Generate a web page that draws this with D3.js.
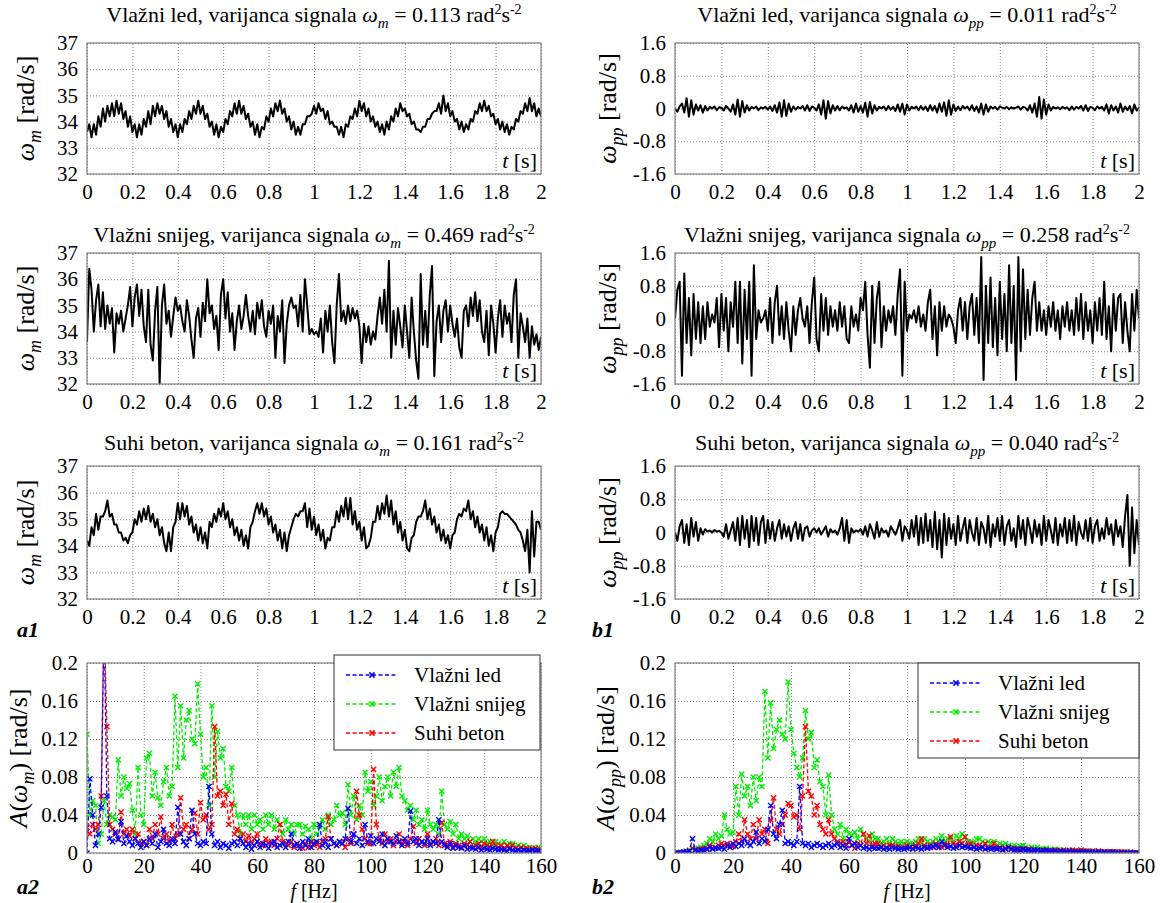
<!DOCTYPE html>
<html><head><meta charset="utf-8">
<script src="https://cdn.jsdelivr.net/npm/d3@7"></script>
<style>
body{margin:0;background:#fff;}
svg text{font-family:"Liberation Serif","Times New Roman",serif;fill:#000;}
</style></head><body>
<svg id="c" width="1161" height="903"></svg>
<script>
// ---------------- DATA ----------------
const timeTicks = [0,0.2,0.4,0.6,0.8,1,1.2,1.4,1.6,1.8,2];
const omegaMTicks = [32,33,34,35,36,37];
const omegaPPTicks = [-1.6,-0.8,0,0.8,1.6];
const freqTicks = [0,20,40,60,80,100,120,140,160];
const ampTicks = [0,0.04,0.08,0.12,0.16,0.2];
const surfaces = ["Vlažni led","Vlažni snijeg","Suhi beton"];
const seriesColors = ["#0000ff","#00ee00","#ff0000"];
const varianceM = ["0.113","0.469","0.161"];
const variancePP = ["0.011","0.258","0.040"];

// omega_m time series, sampled every 0.01 s over 0..2 s
const ledM = [33.6,33.9,33.4,33.9,33.5,34.2,33.8,34.5,34.0,34.6,34.2,
34.7,34.2,34.8,34.3,34.7,34.1,34.4,33.8,34.2,33.6,
33.9,33.4,33.9,33.5,34.1,33.8,34.4,33.9,34.6,34.2,
34.7,34.3,34.6,34.1,34.4,33.8,34.1,33.6,33.9,33.4,
33.9,33.6,34.1,33.9,34.4,34.1,34.6,34.3,34.8,34.3,
34.6,34.1,34.3,33.8,34.0,33.5,33.9,33.4,33.8,33.6,
34.1,33.9,34.4,34.2,34.7,34.3,34.8,34.3,34.6,34.1,
34.3,33.8,34.0,33.5,33.9,33.4,33.8,33.7,34.2,34.0,
34.5,34.2,34.7,34.4,34.8,34.3,34.5,34.0,34.2,33.7,
34.0,33.5,33.8,33.5,33.9,33.9,34.2,34.2,34.3,34.6,
34.3,34.7,34.4,34.5,34.1,34.4,33.9,34.0,33.8,33.8,
33.5,33.8,33.4,33.9,33.8,34.2,34.1,34.5,34.2,34.8,
34.4,34.7,34.2,34.5,34.0,34.2,33.8,34.0,33.6,33.9,
33.5,34.0,33.7,34.2,34.0,34.5,34.2,34.7,34.4,34.5,
34.2,34.3,33.9,34.0,33.7,33.7,33.6,33.8,33.8,34.1,
34.1,34.3,34.4,34.4,34.7,34.3,35.0,34.4,34.7,34.2,
34.4,34.0,34.1,33.7,34.0,33.6,33.9,33.7,34.1,34.0,
34.4,34.3,34.7,34.4,34.8,34.4,34.6,34.2,34.3,33.9,
34.1,33.7,34.0,33.6,33.9,33.5,33.8,33.7,34.1,34.0,
34.4,34.3,34.7,34.4,34.9,34.4,34.7,34.2,34.5,34.2];

const snijegM = [33.6,36.4,35.6,34.0,35.2,35.8,34.2,35.5,34.1,35.0,34.3,
34.9,33.2,34.7,34.3,34.8,34.0,34.5,35.0,35.7,34.2,
35.3,35.8,34.6,35.6,34.2,33.6,35.6,33.5,32.9,34.8,
35.7,32.0,35.0,35.8,34.3,34.8,33.8,34.6,35.3,34.8,
35.0,34.4,34.0,35.2,34.6,33.7,33.0,34.5,34.9,33.8,
35.1,34.4,36.0,34.7,35.0,34.1,34.6,33.3,35.4,36.0,
34.5,35.5,34.0,34.7,33.3,34.4,35.0,34.1,34.6,35.4,
34.6,34.0,34.8,33.9,35.1,34.5,35.2,34.2,33.8,34.8,
34.3,35.0,33.0,34.6,34.0,35.2,32.8,34.3,35.0,35.3,
34.9,35.0,34.2,35.4,34.0,36.0,35.0,33.9,34.1,33.9,
34.0,33.8,34.5,33.2,34.8,34.0,35.0,33.6,32.8,35.0,
36.2,34.4,34.8,34.3,35.0,34.4,34.9,34.5,34.8,34.2,
32.8,34.3,33.6,34.2,33.5,34.0,33.7,34.6,35.3,34.3,
35.6,34.0,36.7,33.0,34.8,33.5,34.9,34.2,33.4,35.0,
34.0,33.0,35.3,34.0,32.9,32.2,36.2,33.5,34.8,33.4,
35.4,36.5,32.3,34.4,35.0,33.6,34.8,35.2,34.0,35.0,
34.3,33.8,34.5,33.4,33.0,34.8,35.0,34.2,35.3,34.6,
35.5,34.4,35.2,34.0,33.6,34.8,33.1,35.0,34.3,33.2,
34.5,35.2,33.8,35.0,34.3,34.7,33.6,35.4,36.0,33.0,
34.7,34.2,33.6,34.5,33.0,34.2,33.5,33.9,33.3,33.8];

const betonM = [34.2,34.0,34.7,34.4,35.2,34.6,35.1,35.1,35.3,35.7,35.1,
35.2,34.8,34.8,34.5,34.5,34.2,34.3,34.1,34.4,34.5,
35.0,34.8,35.3,34.9,35.4,35.0,35.5,34.9,35.2,34.7,
35.0,34.4,34.7,34.1,33.8,34.5,33.8,34.7,34.9,35.6,
35.0,35.6,35.1,35.5,34.8,35.1,34.5,34.8,34.2,34.7,
34.1,34.5,33.9,34.9,34.7,35.2,34.9,35.4,35.1,35.6,
35.0,35.3,34.7,35.0,34.4,34.7,34.2,34.6,34.0,34.4,
33.9,34.7,34.9,35.3,35.6,35.2,35.6,35.1,35.4,34.8,
35.1,34.5,34.8,34.2,34.6,33.9,34.5,33.8,34.4,34.7,
35.0,35.2,35.1,35.3,35.3,35.6,34.7,35.4,34.6,35.1,
34.4,34.8,34.2,34.6,33.9,34.3,34.2,34.7,34.7,35.3,
34.9,35.5,35.1,35.8,35.0,35.8,34.8,35.3,34.6,34.9,
34.2,34.7,33.9,34.0,34.3,34.9,34.9,35.5,35.0,35.6,
35.2,35.9,35.1,35.7,34.8,35.3,34.5,34.9,34.2,34.6,
33.9,33.8,34.3,34.4,34.9,35.1,35.1,35.3,35.7,35.0,
35.4,34.8,35.1,34.5,34.8,34.2,34.6,34.1,34.4,33.9,
34.4,34.5,35.0,35.2,35.1,35.4,35.3,35.7,35.0,35.3,
34.7,35.1,34.5,34.8,34.2,34.7,34.0,34.4,33.8,34.5,
34.7,35.2,35.3,35.2,35.2,35.1,35.0,34.9,34.8,34.6,
34.5,34.2,33.8,34.6,33.0,35.3,33.6,34.9,34.9,34.6];

// omega_pp time series, sampled every 0.01 s over 0..2 s
const ledPP = [0.0,-0.08,0.05,0.12,-0.1,0.25,-0.2,0.2,-0.15,0.1,-0.05,
0.08,-0.1,0.06,-0.05,0.04,0.0,0.05,-0.04,0.03,0.02,
-0.05,0.06,0.0,-0.08,0.1,-0.15,0.22,-0.2,0.18,-0.1,
0.08,-0.05,0.04,0.0,0.05,-0.04,0.03,0.0,0.04,-0.03,
0.05,-0.06,0.08,-0.1,0.15,-0.2,0.2,-0.18,0.12,-0.08,
0.05,-0.03,0.04,0.0,0.06,-0.05,0.08,-0.06,0.05,0.02,
-0.05,0.1,-0.15,0.2,-0.25,0.18,-0.12,0.08,-0.05,0.06,
-0.04,0.05,0.0,0.03,-0.05,0.08,-0.1,0.12,-0.08,0.06,
-0.1,0.14,-0.2,0.16,-0.12,0.08,-0.05,0.04,0.0,0.05,
-0.04,0.06,-0.03,0.04,-0.06,0.1,-0.08,0.12,-0.15,0.1,
-0.05,0.04,0.0,0.05,-0.04,0.06,-0.03,0.05,-0.06,0.08,
-0.05,0.06,-0.1,0.12,-0.08,0.15,-0.18,0.2,-0.15,0.1,
-0.06,0.05,-0.04,0.06,0.0,0.05,-0.04,0.08,-0.06,0.05,
-0.1,0.12,-0.15,0.1,-0.08,0.05,0.0,0.04,-0.03,0.05,
0.02,0.0,0.04,-0.02,0.03,0.0,0.02,0.05,-0.03,0.04,
0.02,-0.05,0.08,-0.1,0.12,-0.2,0.28,-0.25,0.22,-0.15,
0.1,-0.05,0.04,0.0,0.03,-0.02,0.04,0.0,0.03,-0.04,
0.05,-0.03,0.04,0.0,0.06,-0.05,0.08,-0.06,0.04,0.02,
-0.04,0.05,0.0,0.04,-0.05,0.1,-0.12,0.08,-0.05,0.05,
-0.1,0.12,-0.08,0.05,-0.04,0.06,-0.12,0.1,-0.05,0.02];

const snijegPP = [0.0,0.7,0.9,-1.4,1.1,-0.6,0.5,-0.9,0.6,-0.5,0.4,
-0.6,0.3,-0.5,0.4,-0.2,0.1,-0.1,0.5,-0.7,0.6,
-0.3,0.5,-0.8,0.4,-0.2,0.9,-0.6,0.9,-1.1,0.7,
-0.5,0.9,-1.4,1.3,-0.5,0.2,-0.1,0.0,0.2,-0.3,
0.5,-0.6,0.4,0.8,-0.4,0.3,-0.5,0.4,-0.3,-0.8,
0.3,-0.4,0.2,0.5,0.0,-0.2,0.3,-0.6,0.4,1.0,
-0.5,-0.8,0.6,-0.3,0.5,-0.4,0.3,-0.2,0.2,-0.3,
0.4,-0.2,0.3,-0.5,-0.6,0.3,-0.2,0.1,-0.3,0.5,
0.2,0.9,-0.4,-1.2,0.8,-0.6,0.5,0.9,-0.7,0.3,
-0.3,0.2,-0.1,0.3,-0.4,0.6,1.2,-1.4,0.9,-0.3,
0.1,0.0,0.2,-0.1,0.3,-0.2,0.1,-0.3,0.4,0.7,
-0.5,0.3,-0.9,0.4,-0.3,0.3,-0.2,0.1,0.0,-0.2,
-0.6,0.2,0.5,-0.3,0.4,-0.5,0.3,0.6,-0.4,0.5,
-0.6,1.5,-1.5,0.8,-0.6,1.0,-0.7,0.5,-0.9,0.9,
-0.5,0.6,-0.8,1.3,-0.6,0.8,-1.5,1.5,-0.8,1.2,
-0.5,0.7,-0.4,0.5,0.9,-0.3,0.4,-0.3,0.2,-0.4,
0.3,-0.2,0.4,-0.3,0.2,-0.5,0.3,-0.2,0.4,-0.3,
0.2,-0.4,0.5,-0.3,0.6,-0.5,0.4,-0.3,0.2,-0.6,
0.4,-0.3,0.5,-0.4,0.9,-0.5,0.3,-0.8,0.6,-0.3,
0.5,0.6,-0.6,0.4,-0.3,-0.8,0.6,-0.3,0.7,0.0];

const betonPP = [0.0,-0.2,0.15,0.3,-0.25,0.2,-0.3,0.35,-0.1,0.25,-0.2,
0.1,-0.05,0.08,0.02,0.05,0.0,0.06,0.02,0.04,0.0,
-0.1,0.2,-0.15,0.05,0.25,-0.2,0.35,-0.3,0.4,-0.15,
0.3,-0.35,0.4,-0.2,0.35,-0.3,0.25,0.4,-0.25,0.3,
-0.15,0.25,-0.2,0.1,0.3,-0.15,0.2,-0.1,0.15,-0.2,
0.1,0.25,-0.15,0.2,-0.2,0.1,0.15,-0.1,0.05,0.1,
0.0,0.1,-0.05,0.05,0.15,-0.1,0.08,0.0,0.05,-0.05,
0.1,0.35,-0.2,0.3,-0.25,0.1,0.0,0.05,0.02,0.08,
-0.05,0.15,-0.1,0.2,0.05,-0.15,0.25,-0.1,0.1,0.0,
0.05,-0.1,0.15,0.05,-0.05,0.1,0.3,-0.2,0.15,0.05,
-0.15,0.3,-0.1,0.4,-0.3,0.35,-0.25,0.45,-0.2,0.3,
-0.35,0.5,-0.4,0.3,-0.6,0.45,-0.3,0.35,-0.15,0.2,
-0.3,0.4,-0.2,0.1,0.35,-0.25,0.3,0.0,-0.2,0.35,
-0.3,0.25,0.1,-0.25,0.4,-0.35,0.2,-0.1,0.35,-0.2,
0.4,-0.3,0.15,0.3,-0.2,0.1,-0.35,0.4,-0.15,0.3,
-0.3,0.35,0.1,-0.25,0.3,-0.1,0.2,-0.3,0.4,-0.2,
0.3,0.05,-0.25,0.35,-0.3,0.2,-0.1,0.35,-0.25,0.3,
-0.2,0.4,-0.3,0.25,0.0,-0.15,0.3,-0.2,0.35,-0.25,
0.15,0.3,-0.2,0.1,-0.15,0.35,-0.05,0.2,-0.3,0.3,
-0.1,0.15,-0.35,0.4,0.9,-0.8,0.6,-0.5,0.3,-0.3];

// amplitude spectra A(omega_m), 0..160 Hz in 1 Hz steps
const specLedM = [0.000,0.078,0.040,0.008,0.020,0.048,0.250,0.060,0.015,0.012,
0.022,0.014,0.033,0.010,0.018,0.012,0.008,0.015,0.010,0.006,
0.012,0.008,0.015,0.010,0.020,0.006,0.012,0.025,0.010,0.008,
0.015,0.010,0.048,0.020,0.012,0.008,0.015,0.045,0.020,0.010,
0.008,0.012,0.010,0.070,0.020,0.008,0.012,0.006,0.010,0.008,
0.005,0.010,0.012,0.008,0.015,0.010,0.006,0.010,0.004,0.008,
0.012,0.006,0.010,0.008,0.005,0.010,0.012,0.006,0.008,0.010,
0.006,0.012,0.020,0.008,0.010,0.005,0.012,0.008,0.015,0.006,
0.010,0.012,0.030,0.008,0.012,0.006,0.015,0.010,0.008,0.012,
0.010,0.015,0.047,0.012,0.020,0.010,0.015,0.008,0.030,0.012,
0.018,0.010,0.015,0.012,0.020,0.008,0.015,0.012,0.010,0.018,
0.012,0.008,0.015,0.010,0.044,0.012,0.015,0.008,0.012,0.010,
0.015,0.008,0.012,0.010,0.035,0.012,0.008,0.006,0.010,0.005,
0.008,0.006,0.005,0.008,0.004,0.006,0.005,0.004,0.006,0.003,
0.005,0.004,0.003,0.005,0.004,0.003,0.004,0.003,0.002,0.004,
0.003,0.002,0.003,0.002,0.003,0.002,0.002,0.003,0.002,0.002,
0.002];
const specSnijegM = [0.125,0.040,0.055,0.050,0.010,0.020,0.055,0.030,0.040,0.038,
0.035,0.098,0.060,0.080,0.068,0.073,0.045,0.020,0.090,0.040,
0.030,0.100,0.105,0.060,0.085,0.058,0.050,0.075,0.090,0.060,
0.070,0.165,0.090,0.155,0.100,0.140,0.150,0.120,0.115,0.178,
0.125,0.080,0.090,0.050,0.155,0.080,0.128,0.100,0.110,0.070,
0.065,0.090,0.050,0.040,0.020,0.040,0.030,0.040,0.025,0.040,
0.030,0.035,0.025,0.040,0.030,0.040,0.025,0.035,0.030,0.020,
0.035,0.025,0.030,0.020,0.030,0.030,0.020,0.028,0.025,0.015,
0.030,0.020,0.028,0.035,0.025,0.040,0.030,0.035,0.050,0.040,
0.042,0.030,0.072,0.040,0.060,0.035,0.050,0.040,0.085,0.065,
0.075,0.050,0.060,0.080,0.055,0.070,0.080,0.060,0.085,0.070,
0.090,0.060,0.055,0.045,0.050,0.035,0.045,0.030,0.035,0.025,
0.045,0.030,0.025,0.030,0.020,0.065,0.030,0.025,0.033,0.020,
0.030,0.015,0.020,0.015,0.018,0.012,0.015,0.010,0.015,0.012,
0.015,0.010,0.012,0.008,0.012,0.010,0.008,0.012,0.008,0.010,
0.010,0.006,0.008,0.006,0.008,0.005,0.006,0.005,0.004,0.006,
0.004];
const specBetonM = [0.027,0.020,0.030,0.025,0.030,0.060,0.250,0.133,0.030,0.025,
0.020,0.015,0.043,0.020,0.025,0.018,0.025,0.015,0.020,0.010,
0.012,0.008,0.025,0.015,0.030,0.020,0.038,0.015,0.020,0.012,
0.030,0.015,0.020,0.058,0.025,0.030,0.015,0.025,0.042,0.020,
0.053,0.035,0.040,0.025,0.030,0.133,0.060,0.065,0.050,0.062,
0.030,0.052,0.020,0.025,0.015,0.020,0.012,0.018,0.010,0.015,
0.020,0.010,0.008,0.015,0.010,0.012,0.008,0.015,0.030,0.012,
0.010,0.008,0.012,0.006,0.010,0.008,0.005,0.010,0.006,0.012,
0.008,0.010,0.006,0.012,0.015,0.038,0.015,0.010,0.008,0.012,
0.010,0.006,0.015,0.010,0.020,0.065,0.040,0.025,0.015,0.010,
0.010,0.088,0.030,0.015,0.010,0.020,0.012,0.015,0.008,0.012,
0.020,0.010,0.012,0.008,0.015,0.028,0.010,0.015,0.012,0.008,
0.020,0.010,0.012,0.015,0.008,0.032,0.010,0.008,0.012,0.006,
0.010,0.008,0.006,0.010,0.008,0.012,0.006,0.008,0.010,0.006,
0.010,0.008,0.006,0.012,0.008,0.006,0.008,0.005,0.008,0.006,
0.008,0.005,0.004,0.006,0.004,0.005,0.003,0.004,0.005,0.003,
0.003];

// amplitude spectra A(omega_pp), 0..160 Hz in 1 Hz steps
const specLedPP = [0.000,0.000,0.000,0.001,0.001,0.002,0.015,0.003,0.002,0.003,
0.003,0.004,0.006,0.004,0.005,0.005,0.006,0.004,0.008,0.006,
0.010,0.007,0.010,0.008,0.015,0.010,0.008,0.012,0.022,0.010,
0.015,0.012,0.025,0.050,0.020,0.015,0.030,0.045,0.010,0.012,
0.010,0.008,0.012,0.070,0.010,0.008,0.010,0.006,0.008,0.010,
0.008,0.006,0.008,0.010,0.006,0.008,0.010,0.006,0.008,0.005,
0.015,0.008,0.010,0.006,0.008,0.005,0.006,0.004,0.006,0.005,
0.005,0.006,0.004,0.005,0.004,0.006,0.005,0.004,0.005,0.004,
0.005,0.006,0.004,0.006,0.005,0.004,0.006,0.005,0.006,0.007,
0.008,0.006,0.012,0.008,0.006,0.007,0.005,0.006,0.008,0.006,
0.007,0.006,0.005,0.006,0.004,0.005,0.006,0.004,0.005,0.004,
0.005,0.004,0.005,0.003,0.004,0.006,0.004,0.003,0.004,0.003,
0.004,0.003,0.003,0.002,0.003,0.003,0.002,0.002,0.003,0.002,
0.002,0.002,0.001,0.002,0.001,0.001,0.002,0.001,0.001,0.001,
0.001,0.001,0.001,0.001,0.000,0.001,0.001,0.000,0.001,0.000,
0.000,0.001,0.000,0.000,0.000,0.000,0.000,0.000,0.000,0.000,
0.000];
const specSnijegPP = [0.000,0.000,0.001,0.001,0.002,0.003,0.005,0.004,0.005,0.006,
0.008,0.010,0.015,0.012,0.020,0.015,0.018,0.040,0.025,0.020,
0.022,0.070,0.040,0.083,0.060,0.070,0.050,0.080,0.055,0.080,
0.070,0.170,0.100,0.158,0.110,0.130,0.140,0.125,0.120,0.180,
0.130,0.105,0.090,0.080,0.100,0.150,0.120,0.127,0.090,0.098,
0.075,0.070,0.040,0.082,0.040,0.025,0.020,0.030,0.015,0.025,
0.020,0.018,0.022,0.015,0.025,0.020,0.015,0.012,0.020,0.015,
0.015,0.010,0.012,0.015,0.010,0.015,0.012,0.010,0.012,0.010,
0.012,0.010,0.010,0.012,0.015,0.010,0.015,0.012,0.010,0.012,
0.015,0.012,0.018,0.012,0.015,0.015,0.012,0.018,0.015,0.020,
0.017,0.012,0.012,0.010,0.015,0.015,0.012,0.010,0.012,0.010,
0.012,0.008,0.010,0.008,0.010,0.008,0.006,0.008,0.006,0.007,
0.008,0.006,0.005,0.006,0.005,0.006,0.004,0.004,0.005,0.003,
0.003,0.004,0.003,0.003,0.002,0.002,0.003,0.002,0.002,0.002,
0.002,0.002,0.001,0.002,0.001,0.001,0.002,0.001,0.001,0.001,
0.001,0.001,0.001,0.000,0.001,0.000,0.001,0.000,0.000,0.000,
0.000];
const specBetonPP = [0.000,0.000,0.000,0.001,0.001,0.002,0.005,0.003,0.003,0.004,
0.005,0.004,0.008,0.005,0.006,0.008,0.010,0.008,0.010,0.008,
0.007,0.012,0.020,0.012,0.035,0.020,0.015,0.030,0.015,0.035,
0.020,0.025,0.010,0.035,0.058,0.025,0.020,0.030,0.040,0.052,
0.050,0.038,0.040,0.025,0.060,0.133,0.065,0.060,0.040,0.050,
0.030,0.025,0.020,0.035,0.020,0.015,0.012,0.010,0.012,0.008,
0.012,0.008,0.005,0.010,0.008,0.020,0.010,0.018,0.008,0.010,
0.010,0.006,0.008,0.006,0.008,0.008,0.006,0.007,0.005,0.006,
0.008,0.006,0.005,0.008,0.010,0.015,0.008,0.006,0.008,0.006,
0.010,0.008,0.006,0.010,0.008,0.017,0.010,0.008,0.012,0.010,
0.017,0.008,0.010,0.006,0.008,0.008,0.006,0.010,0.005,0.006,
0.010,0.005,0.006,0.004,0.005,0.006,0.004,0.005,0.003,0.004,
0.004,0.003,0.004,0.003,0.002,0.003,0.002,0.003,0.002,0.002,
0.002,0.003,0.002,0.002,0.003,0.002,0.002,0.003,0.002,0.002,
0.003,0.002,0.002,0.001,0.002,0.001,0.002,0.001,0.001,0.001,
0.0015,0.001,0.001,0.001,0.001,0.001,0.000,0.001,0.000,0.000,
0.000];

// ---------------- DRAWING ----------------
const svg = d3.select('#c');
const cols = [{x0:87,x1:541,ylab:34,sylab:27,pad:9},{x0:675,x1:1139,ylab:616,sylab:614,pad:9}];
const rows = [{y0:43,y1:174,title:22},{y0:253,y1:384,title:242},{y0:466,y1:599,title:450}];
const specRow = {y0:663,y1:853};
const fmt = v => String(v);
let clipN = 0;

function panel(x0,x1,y0,y1,xDom,yDom,xTicks,yTicks,yPad,xPad){
  const x = d3.scaleLinear().domain(xDom).range([x0,x1]);
  const y = d3.scaleLinear().domain(yDom).range([y1,y0]);
  const g = svg.append('g');
  const ax = g.append('g').attr('transform',`translate(0,${y1})`)
    .call(d3.axisBottom(x).tickValues(xTicks).tickFormat(fmt)
      .tickSizeInner(-(y1-y0)).tickSizeOuter(0).tickPadding(xPad));
  const ay = g.append('g').attr('transform',`translate(${x0},0)`)
    .call(d3.axisLeft(y).tickValues(yTicks).tickFormat(fmt)
      .tickSizeInner(-(x1-x0)).tickSizeOuter(0).tickPadding(yPad));
  [ax,ay].forEach(a=>{
    a.attr('font-family',null);
    a.select('.domain').remove();
    a.selectAll('line').attr('stroke','#7a7a7a').attr('stroke-width',0.9).attr('stroke-dasharray','1,2');
    a.selectAll('text').attr('font-size',21).attr('fill','#000')
      .style('font-family','"Liberation Serif","Times New Roman",serif');
  });
  const id = 'clip'+(clipN++);
  svg.append('clipPath').attr('id',id).append('rect')
    .attr('x',x0).attr('y',y0).attr('width',x1-x0).attr('height',y1-y0);
  const frame = ()=> g.append('rect').attr('x',x0).attr('y',y0).attr('width',x1-x0).attr('height',y1-y0)
    .attr('fill','none').attr('stroke','#808080').attr('stroke-width',1.2);
  return {x,y,g,id,frame};
}

function title(cx, yb, surface, sub, val){
  const t = svg.append('text').attr('x',cx).attr('y',yb).attr('text-anchor','middle').attr('font-size',22);
  t.append('tspan').text(surface+', varijanca signala ');
  t.append('tspan').attr('font-style','italic').text('ω');
  t.append('tspan').attr('font-style','italic').attr('font-size',15).attr('dy',6).text(sub);
  t.append('tspan').attr('dy',-6).text(' = '+val+' rad');
  t.append('tspan').attr('font-size',14).attr('dy',-8).text('2');
  t.append('tspan').attr('dy',8).text('s');
  t.append('tspan').attr('font-size',14).attr('dy',-8).text('-2');
}

function ylabel(xb, cy, sub, amp){
  const t = svg.append('text').attr('transform',`translate(${xb},${cy}) rotate(-90)`)
    .attr('text-anchor','middle').attr('font-size',26);
  if(amp){ t.append('tspan').attr('font-style','italic').text('A'); t.append('tspan').text('('); }
  t.append('tspan').attr('font-style','italic').text('ω');
  t.append('tspan').attr('font-style','italic').attr('font-size',18).attr('dy',7).text(sub);
  t.append('tspan').attr('dy',-7).text((amp?')':'')+' [rad/s]');
}

const timeSeries = [[ledM,snijegM,betonM],[ledPP,snijegPP,betonPP]];
const yDomains = [[32,37],[-1.6,1.6]];
const yTickSets = [omegaMTicks, omegaPPTicks];
const subs = ['m','pp'];
const variances = [varianceM, variancePP];

cols.forEach((c,ci)=>{
  rows.forEach((r,ri)=>{
    const p = panel(c.x0,c.x1,r.y0,r.y1,[0,2],yDomains[ci],timeTicks,yTickSets[ci],c.pad,10);
    const data = timeSeries[ci][ri];
    const n = data.length;
    const tOf = d3.scaleLinear().domain([0,n-1]).range([0,2]);
    p.g.append('path').datum(data).attr('clip-path',`url(#${p.id})`)
      .attr('fill','none').attr('stroke','#000').attr('stroke-width',2).attr('stroke-linejoin','round')
      .attr('d', d3.line().x((d,i)=>p.x(tOf(i))).y(d=>p.y(d)));
    p.frame();
    const tl = p.g.append('text').attr('x',c.x1-4).attr('y',r.y1-6).attr('text-anchor','end').attr('font-size',22);
    tl.append('tspan').attr('font-style','italic').text('t');
    tl.append('tspan').text(' [s]');
    title((c.x0+c.x1)/2, r.title, surfaces[ri], subs[ci], variances[ci][ri]);
    ylabel(c.ylab, (r.y0+r.y1)/2, subs[ci], false);
  });
});

// spectra
const spectra = [[specLedM,specSnijegM,specBetonM],[specLedPP,specSnijegPP,specBetonPP]];
const drawOrder = [1,2,0];
const marker = 'M-2.6,-2.6L2.6,2.6M-2.6,2.6L2.6,-2.6';
const legendBoxes = [{x:334,y:655,w:206,h:95},{x:918,y:663,w:221,h:95}];

cols.forEach((c,ci)=>{
  const p = panel(c.x0,c.x1,specRow.y0,specRow.y1,[0,160],[0,0.2],freqTicks,ampTicks,c.pad,5);
  const dg = p.g.append('g').attr('clip-path',`url(#${p.id})`);
  drawOrder.forEach(si=>{
    const data = spectra[ci][si];
    const n = data.length;
    const fOf = d3.scaleLinear().domain([0,n-1]).range([0,160]);
    dg.append('path').datum(data).attr('fill','none').attr('stroke',seriesColors[si])
      .attr('stroke-width',1.3).attr('stroke-dasharray','4,2.5')
      .attr('d', d3.line().x((d,i)=>p.x(fOf(i))).y(d=>p.y(d)));
    dg.selectAll(null).data(data).join('path')
      .attr('transform',(d,i)=>`translate(${p.x(fOf(i))},${p.y(d)})`)
      .attr('d',marker).attr('stroke',seriesColors[si]).attr('stroke-width',1.4).attr('fill','none');
  });
  p.frame();
  const lb = legendBoxes[ci];
  const lg = svg.append('g');
  lg.append('rect').attr('x',lb.x).attr('y',lb.y).attr('width',lb.w).attr('height',lb.h)
    .attr('fill','#fff').attr('stroke','#333').attr('stroke-width',1);
  surfaces.forEach((s,si)=>{
    const yy = lb.y + 20 + si*29;
    const lx0 = lb.x + 12, lx1 = lb.x + 64;
    lg.append('line').attr('x1',lx0).attr('x2',lx1).attr('y1',yy).attr('y2',yy)
      .attr('stroke',seriesColors[si]).attr('stroke-width',1.4).attr('stroke-dasharray','4,2.5');
    lg.append('path').attr('transform',`translate(${(lx0+lx1)/2},${yy})`).attr('d',marker)
      .attr('stroke',seriesColors[si]).attr('stroke-width',1.6);
    lg.append('text').attr('x',lb.x+80).attr('y',yy+7).attr('font-size',21).text(s);
  });
  ylabel(c.sylab, (specRow.y0+specRow.y1)/2, subs[ci], true);
  const fl = svg.append('text').attr('x',(c.x0+c.x1)/2).attr('y',898).attr('text-anchor','middle').attr('font-size',20);
  fl.append('tspan').attr('font-style','italic').text('f');
  fl.append('tspan').text(' [Hz]');
});

// panel tags
[['a1',17,637],['a2',17,894],['b1',592,637],['b2',592,894]].forEach(([s,x,y])=>{
  svg.append('text').attr('x',x).attr('y',y).attr('font-size',22).attr('font-weight','bold')
    .attr('font-style','italic').text(s);
});
</script>
</body></html>
